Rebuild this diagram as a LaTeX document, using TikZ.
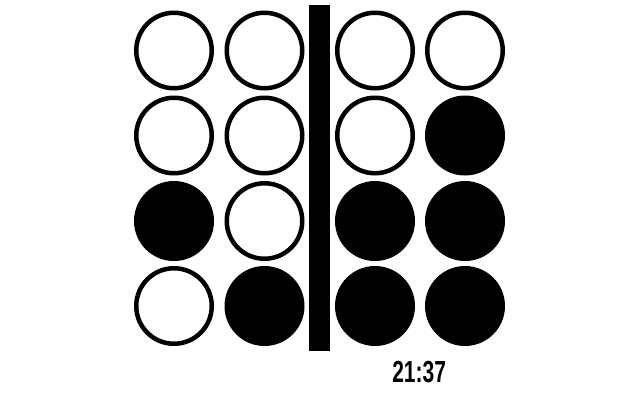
\documentclass[tikz,border=0pt]{standalone}
\usepackage{fontspec}
\setmainfont{Liberation Sans}
\usepackage{graphicx}
\begin{document}
\begin{tikzpicture}[x=1pt,y=-1pt,
  off/.style={circle,draw=black,line width=4.5pt,minimum size=75.5pt,inner sep=0pt,fill=white},
  on/.style={circle,fill=black,minimum size=80pt,inner sep=0pt},
  barbox/.style={fill=black}]
\useasboundingbox (0,0) rectangle (640,400);
% column x: 174, 264.5, 375, 465 ; row y: 50.5, 135.5, 221, 306
\node[off] (a1) at (174,50.5) {};
\node[off] (b1) at (264.5,50.5) {};
\node[off] (c1) at (375,50.5) {};
\node[off] (d1) at (465,50.5) {};
\node[off] (a2) at (174,135.5) {};
\node[off] (b2) at (264.5,135.5) {};
\node[off] (c2) at (375,135.5) {};
\node[on]  (d2) at (465,135.5) {};
\node[on]  (a3) at (174,221) {};
\node[off] (b3) at (264.5,221) {};
\node[on]  (c3) at (375,221) {};
\node[on]  (d3) at (465,221) {};
\node[off] (a4) at (174,306) {};
\node[on]  (b4) at (264.5,306) {};
\node[on]  (c4) at (375,306) {};
\node[on]  (d4) at (465,306) {};
\fill[barbox] (309,4.7) rectangle (330,351);
\node[inner sep=0pt] (time) at (419.2,372.5) {\scalebox{0.69}[1]{\fontsize{30.5pt}{30.5pt}\selectfont\bfseries 21:37}};
\end{tikzpicture}
\end{document}
